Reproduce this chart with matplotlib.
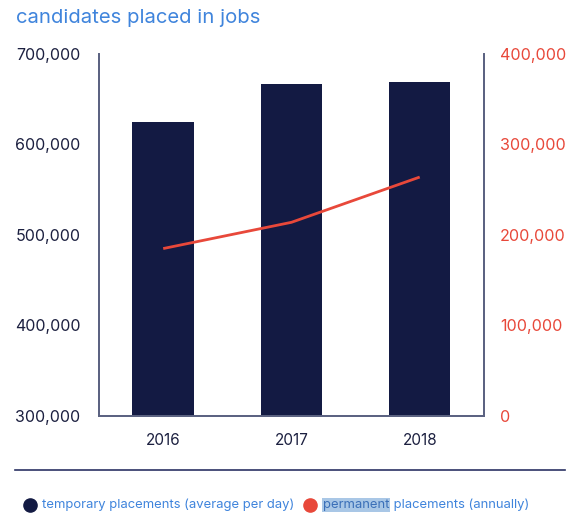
import numpy as np
import matplotlib.pyplot as plt
from matplotlib.ticker import FuncFormatter

plt.rcParams['font.family'] = ['Inter', 'DejaVu Sans']

years = ["2016", "2017", "2018"]
temporary = [625000, 667000, 669000]   # average per day
permanent = [185000, 214000, 264000]   # annually
left_ticks = [300000, 400000, 500000, 600000, 700000]
right_ticks = [0, 100000, 200000, 300000, 400000]

navy = "#131a43"
red = "#e8483a"
blue = "#3f84dc"
spine_col = "#5b6281"

fig = plt.figure(figsize=(5.76, 5.17), dpi=100)
ax = fig.add_axes([0.172, 0.1954, 0.668, 0.7002])
ax2 = ax.twinx()

x = np.arange(len(years))
ax.bar(x, temporary, width=0.48, color=navy, zorder=2)
ax2.plot(x, permanent, color=red, lw=2, solid_capstyle='butt', zorder=3)

ax.set_xlim(-0.5, 2.5)
ax.set_ylim(300000, 700000)
ax2.set_ylim(0, 400000)
ax.set_xticks(x)
ax.set_xticklabels(years)
ax.set_yticks(left_ticks)
ax2.set_yticks(right_ticks)

fmt = FuncFormatter(lambda v, p: f"{int(v):,}")
ax.yaxis.set_major_formatter(fmt)
ax2.yaxis.set_major_formatter(fmt)

ax.tick_params(axis='y', length=0, pad=13.5, labelsize=11.5, labelcolor="#1c2040")
ax.tick_params(axis='x', length=0, pad=12, labelsize=11, labelcolor="#1c2040")
ax2.tick_params(axis='y', length=0, pad=11.5, labelsize=11.6, labelcolor=red)

for a in (ax, ax2):
    a.spines['top'].set_visible(False)
    for s in ('left', 'right', 'bottom'):
        a.spines[s].set_color(spine_col)
        a.spines[s].set_linewidth(1.3)

fig.text(16 / 576, 1 - 18 / 517, "candidates placed in jobs", color=blue,
         fontsize=14.6, va='center', ha='left')

# divider above the legend
fig.add_artist(plt.Line2D([15 / 576, 565 / 576], [1 - 470 / 517] * 2,
                          color="#2b3263", lw=1.2))

# legend row
ly = 1 - 505 / 517
fs = 9.4
fig.add_artist(plt.Line2D([29.5 / 576], [ly], marker='o', ms=9.5, color=navy, lw=0))
fig.text(42 / 576, ly, "temporary placements (average per day)", color=blue,
         fontsize=fs, va='center', ha='left')
fig.add_artist(plt.Line2D([310 / 576], [ly], marker='o', ms=9.5, color=red, lw=0))
t = fig.text(323 / 576, ly, "permanent", color="#3a6fb8", fontsize=fs,
             va='center', ha='left',
             bbox=dict(facecolor="#a9c7e6", edgecolor='none', pad=0.5))
ax.annotate(" placements (annually)", xy=(1, 0), xycoords=t,
            va='bottom', ha='left', color=blue, fontsize=fs,
            annotation_clip=False)

fig.savefig("out.png", dpi=100)
